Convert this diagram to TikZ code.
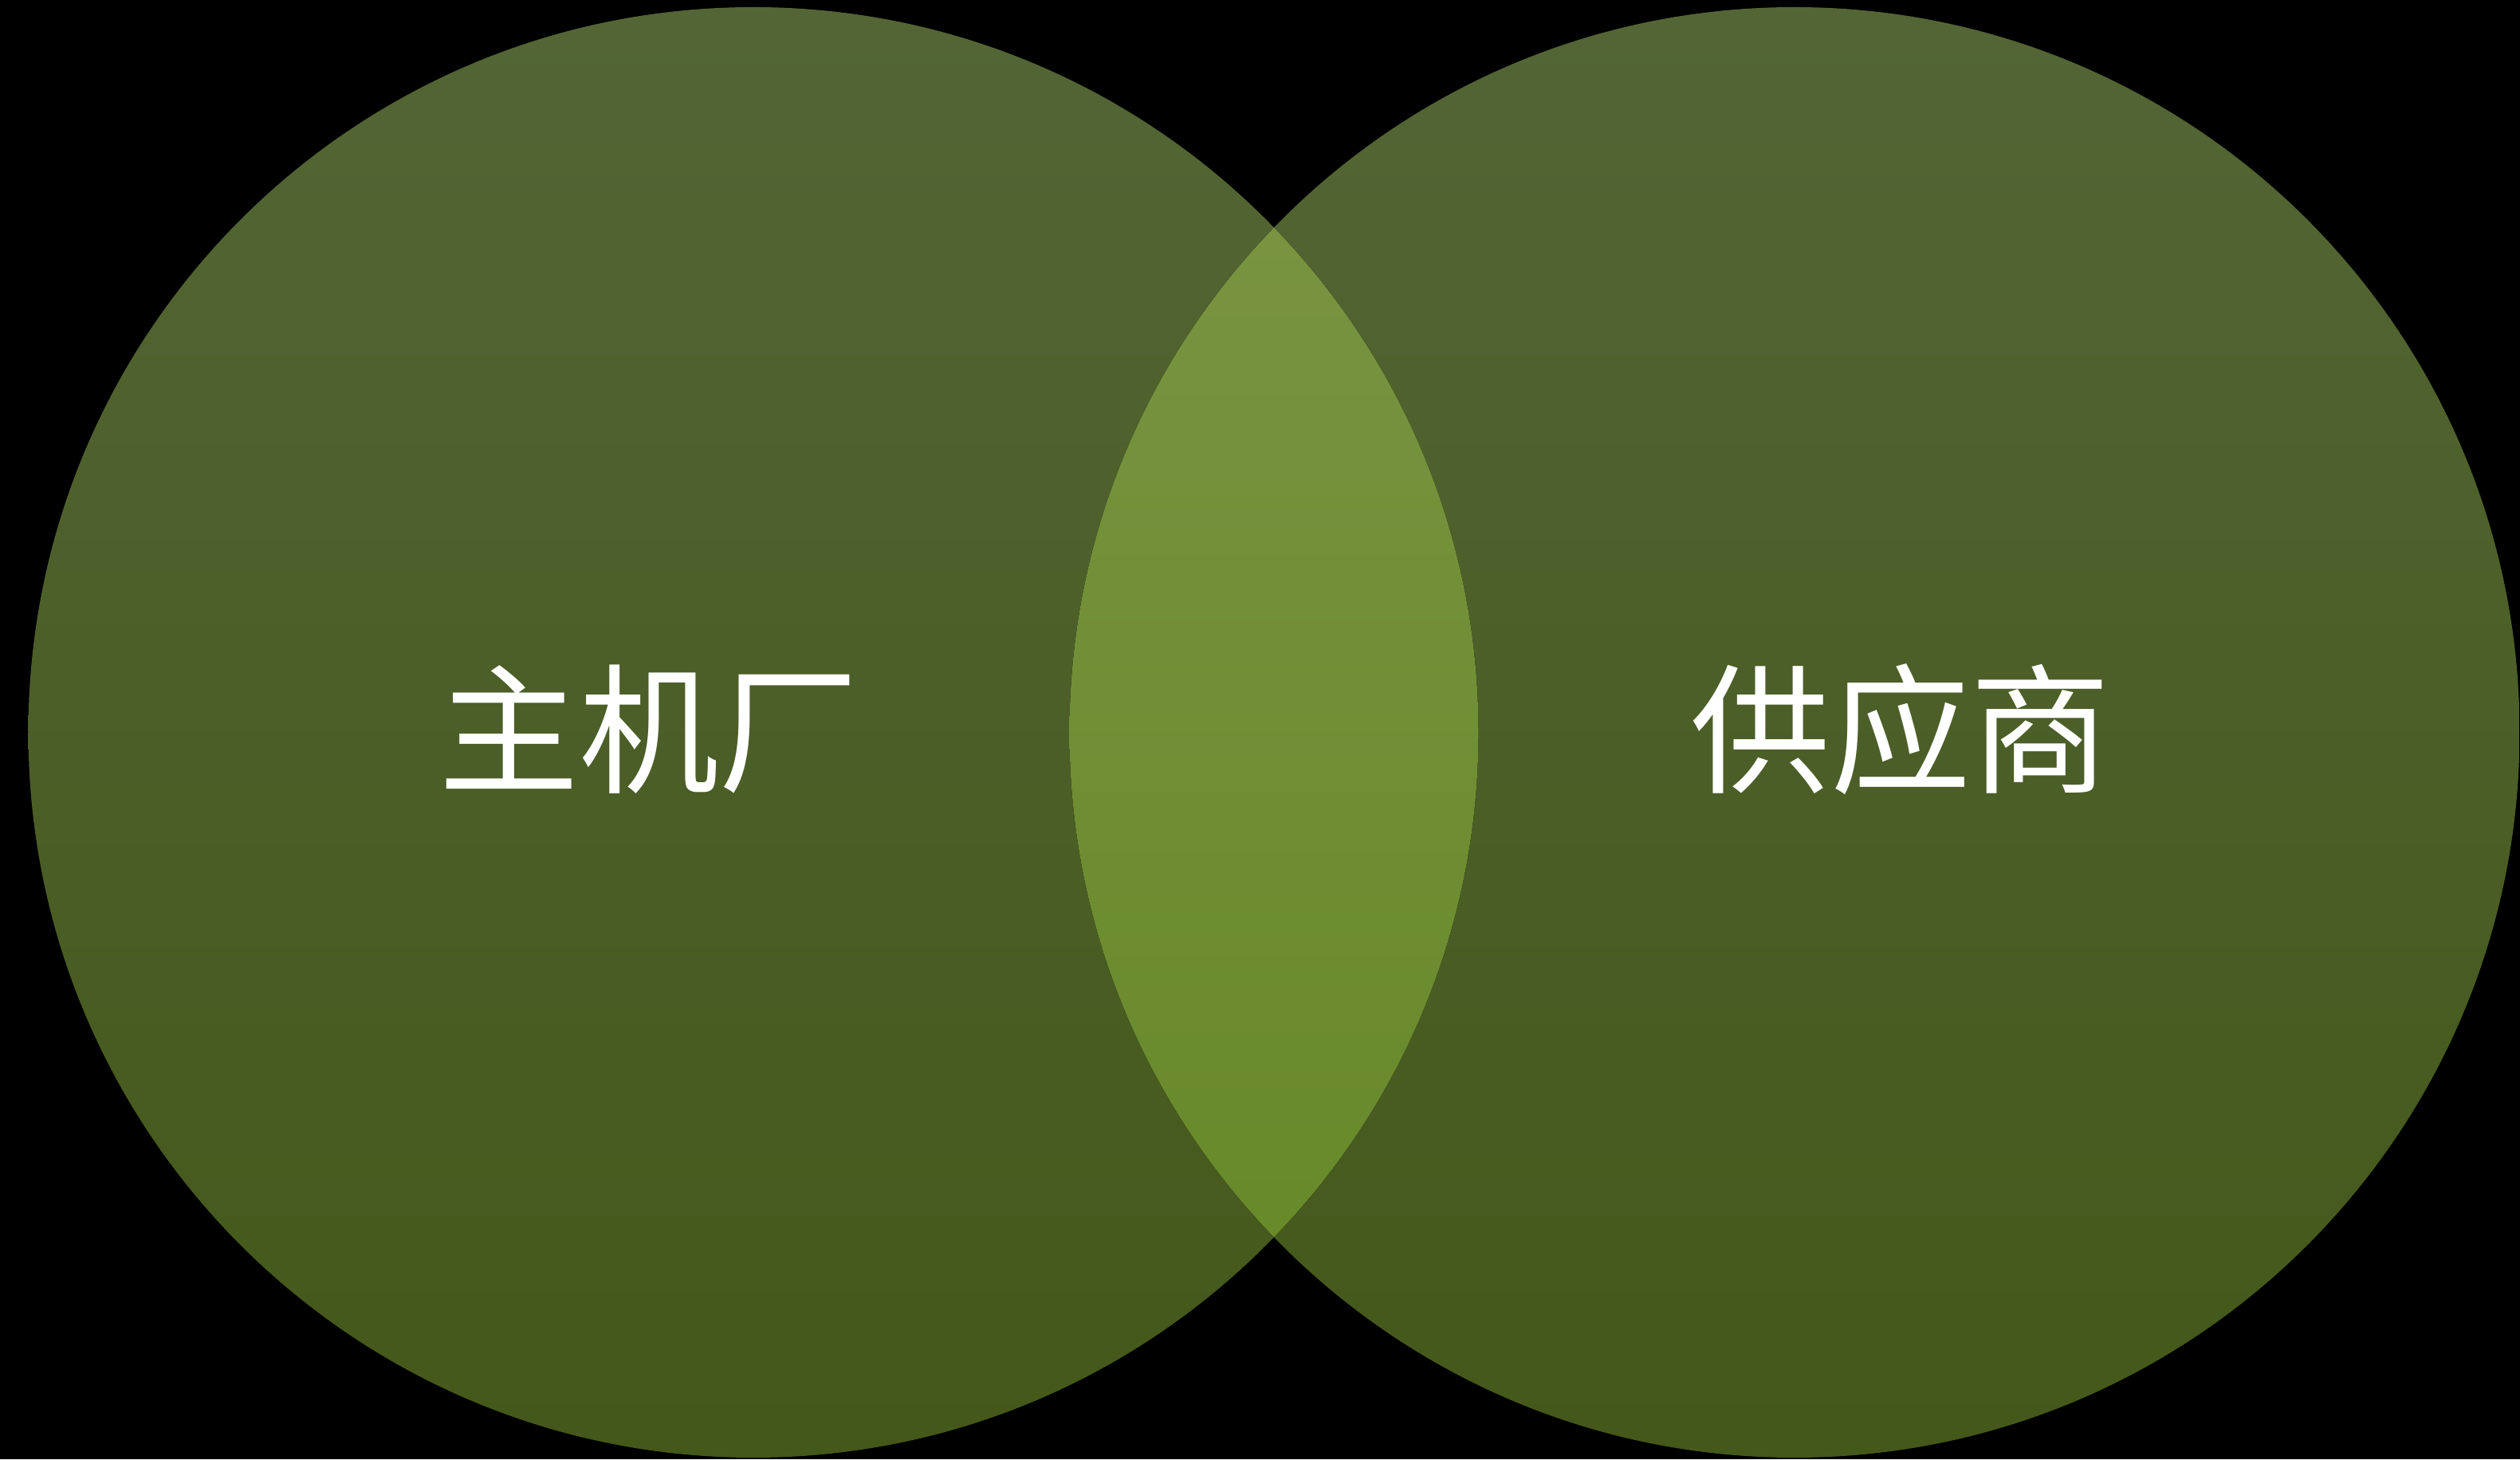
\documentclass[tikz,border=0pt]{standalone}
\usepackage{fontspec}
\newfontfamily\cjk{Noto Sans CJK SC}
\definecolor{vennTop}{HTML}{536535}
\definecolor{vennBot}{HTML}{44581A}
\definecolor{lensTop}{HTML}{799340}
\definecolor{lensBot}{HTML}{688A2A}
\tikzset{venn/.style = {circle, inner sep=0pt, minimum size=18.19cm, draw=none, top color=vennTop, bottom color=vennBot}}
\tikzset{vennlabel/.style = {text=white, inner sep=0pt, font=\cjk\fontsize{50}{60}\selectfont}}

\begin{document}
\begin{tikzpicture}
      \fill[black] (0, 0) rectangle (31.61, 18.30);
      \node [venn] (oem) at (9.45, 9.115) {};
      \node [venn] (supplier) at (22.51, 9.115) {};
      \begin{scope}
        \clip (oem.center) circle (9.095);
        \clip (supplier.center) circle (9.095);
        \fill [top color=lensTop, bottom color=lensBot] (13.40, 2.78) rectangle (18.56, 15.45);
      \end{scope}
      \node [vennlabel] (oemText) at (8.14, 9.15) {主机厂};
      \node [vennlabel] (supplierText) at (23.84, 9.15) {供应商};
    \end{tikzpicture}
\end{document}
